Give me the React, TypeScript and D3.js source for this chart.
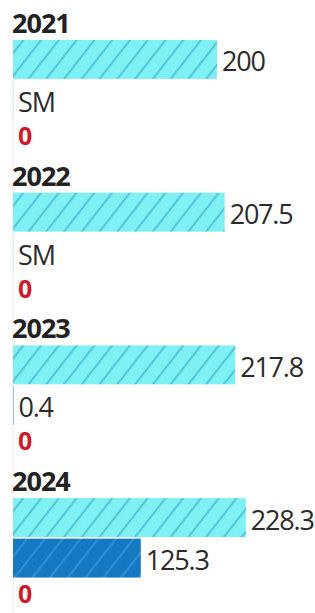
import React from "react";
import * as d3 from "d3";

const years = ["2021", "2022", "2023", "2024"];
const seriesA = [200, 207.5, 217.8, 228.3];
const seriesALabels = ["200", "207.5", "217.8", "228.3"];
const seriesB = [0.1, 0.1, 0.4, 125.3];
const seriesBLabels = ["SM", "SM", "0.4", "125.3"];
const seriesC = [0, 0, 0, 0];
const seriesCLabels = ["0", "0", "0", "0"];

const W = 315;
const H = 613;
const FONT = "'Open Sans', 'Noto Sans', sans-serif";

export default function App() {
  const x = d3.scaleLinear().domain([0, 250]).range([13, 268]);
  const groupY = d3.scaleBand<string>().domain(years).range([0, 4 * 152.7]).paddingInner(0);
  const rowY = d3.scaleBand<number>().domain([0, 1, 2]).range([40, 160]).paddingInner(0.04).paddingOuter(0.0);
  const barH = rowY.bandwidth();

  const rows = [
    { values: seriesA, labels: seriesALabels, fill: "url(#hatchLight)", labelColor: "#2b2b2b", bold: false },
    { values: seriesB, labels: seriesBLabels, fill: "url(#hatchDark)", labelColor: "#2b2b2b", bold: false },
    { values: seriesC, labels: seriesCLabels, fill: "#d0202e", labelColor: "#cc1b2b", bold: true },
  ];

  return (
    <svg
      width={W}
      height={H}
      style={{ position: "absolute", left: 0, top: 0, background: "#fff" }}
      fontFamily={FONT}
    >
      <defs>
        <pattern id="hatchLight" patternUnits="userSpaceOnUse" width={14} height={14} patternTransform="rotate(38)">
          <rect width={14} height={14} fill="#7ff0f4" />
          <line x1={1} y1={0} x2={1} y2={14} stroke="#50cadb" strokeWidth={2.2} />
        </pattern>
        <pattern id="hatchDark" patternUnits="userSpaceOnUse" width={14} height={14} patternTransform="rotate(38)">
          <rect width={14} height={14} fill="#1678c1" />
          <line x1={1} y1={0} x2={1} y2={14} stroke="#2a91d6" strokeWidth={2.2} />
        </pattern>
      </defs>
      <line x1={x(0)} x2={x(0)} y1={40} y2={H} stroke="#ececec" strokeWidth={1} />
      {years.map((yr, i) => {
        const g = groupY(yr) ?? 0;
        return (
          <g key={yr} transform={`translate(0,${g})`}>
            <text x={12} y={33} fontSize={27} fontWeight={700} fill="#222" letterSpacing={-1}>
              {yr}
            </text>
            {rows.map((r, ri) => {
              const v = r.values[i];
              const y0 = rowY(ri) ?? 0;
              const w = x(v) - x(0);
              const cy = y0 + barH / 2;
              return (
                <g key={ri}>
                  {w > 0 && ri < 2 && (
                    <rect x={x(0)} y={y0} width={w} height={barH} fill={r.fill} />
                  )}
                  <text
                    x={x(v) + 5}
                    y={cy + (ri === 2 ? 4.5 : 12)}
                    fontSize={ri === 2 ? 25 : 27}
                    fontWeight={r.bold ? 700 : 400}
                    fill={r.labelColor}
                    letterSpacing={-1.2}
                  >
                    {r.labels[i]}
                  </text>
                </g>
              );
            })}
          </g>
        );
      })}
    </svg>
  );
}
